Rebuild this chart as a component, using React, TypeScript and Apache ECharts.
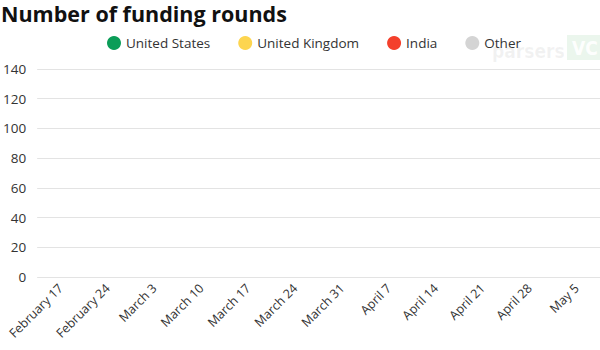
import React, { useEffect, useRef } from "react";
import * as echarts from "echarts";

const categories = [
  "February 17", "February 24", "March 3", "March 10", "March 17", "March 24",
  "March 31", "April 7", "April 14", "April 21", "April 28", "May 5",
];
const unitedStates = [0, 0, 0, 0, 0, 0, 0, 0, 0, 0, 0, 0];
const unitedKingdom = [0, 0, 0, 0, 0, 0, 0, 0, 0, 0, 0, 0];
const india = [0, 0, 0, 0, 0, 0, 0, 0, 0, 0, 0, 0];
const other = [0, 0, 0, 0, 0, 0, 0, 0, 0, 0, 0, 0];
const seriesNames = ["United States", "United Kingdom", "India", "Other"];
const seriesColors = ["#0b9d58", "#fdd54f", "#f4402c", "#d4d4d4"];

const FONT = "'Open Sans', 'Noto Sans', sans-serif";

export default function App() {
  const ref = useRef<HTMLDivElement>(null);
  useEffect(() => {
    if (!ref.current) return;
    const chart = echarts.init(ref.current, null, { renderer: "svg" });
    const datasets = [unitedStates, unitedKingdom, india, other];
    chart.setOption({
      animation: false,
      backgroundColor: "#ffffff",
      textStyle: { fontFamily: FONT },
      title: {
        text: "Number of funding rounds",
        left: 1,
        top: 0,
        padding: 0,
        textStyle: { fontFamily: FONT, fontWeight: "bold", fontSize: 21.5, color: "#111", lineHeight: 26 },
      },
      legend: {
        left: 107,
        top: 36,
        icon: "circle",
        itemWidth: 14,
        itemHeight: 14,
        itemGap: 28,
        padding: 0,
        textStyle: { fontFamily: FONT, fontSize: 13.5, color: "#333" },
        data: seriesNames,
      },
      graphic: [
        {
          type: "rect",
          left: 567,
          top: 35,
          shape: { width: 40, height: 25 },
          style: { fill: "rgba(60,170,80,0.10)" },
          z: -1,
        },
        {
          type: "text",
          left: 492,
          top: 41,
          style: { text: "parsers", fill: "rgba(150,150,150,0.12)", font: "bold 19px 'Liberation Sans Narrow', 'DejaVu Sans Condensed', sans-serif" },
          z: -1,
        },
        {
          type: "text",
          left: 572,
          top: 38,
          style: { text: "VC", fill: "rgba(255,255,255,0.95)", font: "bold 19px 'DejaVu Sans Condensed', sans-serif" },
          z: -1,
        },
      ],
      grid: { left: 33, right: -4, top: 69, bottom: 73, containLabel: false },
      xAxis: {
        type: "category",
        data: categories,
        boundaryGap: true,
        axisLine: { show: false },
        axisTick: { show: false },
        axisLabel: { rotate: 45, fontSize: 12.5, color: "#333", margin: 9, interval: 0, fontFamily: FONT },
      },
      yAxis: {
        type: "value",
        min: 0,
        max: 140,
        interval: 20,
        axisLine: { show: false },
        axisTick: { show: false },
        axisLabel: { fontSize: 13.5, color: "#333", margin: 11, fontFamily: FONT },
        splitLine: { lineStyle: { color: "#e3e3e3", width: 1 } },
      },
      series: seriesNames.map((name, i) => ({
        name,
        type: "bar",
        stack: "total",
        barWidth: "70%",
        itemStyle: { color: seriesColors[i] },
        data: datasets[i],
      })),
    });
    return () => chart.dispose();
  }, []);
  return (
    <div
      ref={ref}
      style={{ position: "absolute", left: 0, top: 0, width: 600, height: 350 }}
    />
  );
}
